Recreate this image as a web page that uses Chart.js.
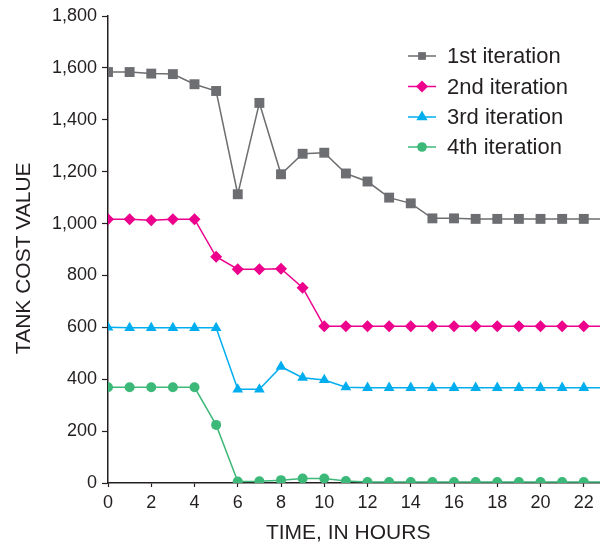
<!DOCTYPE html>
<html>
<head>
<meta charset="utf-8">
<script src="https://cdn.jsdelivr.net/npm/chart.js@4.4.1/dist/chart.umd.min.js"></script>
<style>
  html, body { margin: 0; padding: 0; background: #fff; }
  #wrap { width: 600px; height: 546px; position: relative; }
</style>
</head>
<body>
<div id="wrap"><canvas id="tankChart"></canvas></div>
<script>
// hours of the day; the last one only carries the lines out to the edge
const hours = [0, 1, 2, 3, 4, 5, 6, 7, 8, 9, 10, 11, 12, 13, 14, 15, 16, 17, 18, 19, 20, 21, 22, 23];
const iter1 = [1584, 1584, 1578, 1576, 1537, 1511, 1113, 1465, 1190, 1269, 1273, 1193, 1162, 1100, 1078, 1020, 1020, 1018, 1018, 1018, 1018, 1018, 1018, 1018];
const iter2 = [1017, 1017, 1013, 1017, 1017, 872, 824, 824, 826, 753, 604, 604, 604, 604, 604, 604, 604, 604, 604, 604, 604, 604, 604, 604];
const iter3 = [600, 598, 598, 598, 598, 598, 361, 361, 448, 406, 397, 369, 367, 367, 367, 367, 367, 367, 367, 367, 367, 367, 367, 367];
const iter4 = [369, 369, 369, 369, 369, 224, 6, 7, 11, 17, 17, 8, 4, 4, 4, 4, 4, 4, 4, 4, 4, 4, 4, 4];
const seriesNames = ['1st iteration', '2nd iteration', '3rd iteration', '4th iteration'];
const xTicks = [0, 2, 4, 6, 8, 10, 12, 14, 16, 18, 20, 22];

const FONT = '"Liberation Sans", Arial, Helvetica, sans-serif';
const INK = '#231f20';

const styles = [
    { color: '#6d6e71', shape: 'rect', r: 7, legendR: 5.5 },
    { color: '#ec008c', shape: 'rectRot', r: 6, legendR: 6 },
    { color: '#00aeef', shape: 'triangle', r: 6.2, legendR: 6.5 },
    { color: '#3cb878', shape: 'circle', r: 5, legendR: 4.8 }
];

function makeSet(i, values) {
    const st = styles[i];
    return {
        label: seriesNames[i],
        data: hours.map((h, k) => ({ x: h, y: values[k] })),
        borderColor: st.color,
        backgroundColor: st.color,
        borderWidth: 1.5,
        pointStyle: st.shape,
        pointRadius: c => (c.dataIndex === hours.length - 1 ? 0 : st.r),
        pointBorderWidth: 0,
        tension: 0
    };
}

function drawMarker(ctx, shape, x, y, r) {
    ctx.beginPath();
    if (shape === 'rect') {
        const s = r * Math.SQRT1_2;
        ctx.rect(x - s, y - s, 2 * s, 2 * s);
    } else if (shape === 'rectRot') {
        ctx.moveTo(x, y - r); ctx.lineTo(x + r, y); ctx.lineTo(x, y + r); ctx.lineTo(x - r, y);
        ctx.closePath();
    } else if (shape === 'triangle') {
        for (let k = 0; k < 3; k++) {
            const a = k * 2 * Math.PI / 3;
            const px = x + Math.sin(a) * r, py = y - Math.cos(a) * r;
            k ? ctx.lineTo(px, py) : ctx.moveTo(px, py);
        }
        ctx.closePath();
    } else {
        ctx.arc(x, y, r, 0, Math.PI * 2);
    }
    ctx.fill();
}

// legend sits inside the plot, top right
const cornerLegend = {
    id: 'cornerLegend',
    afterDraw(chart) {
        const ctx = chart.ctx;
        const rows = [56, 86.5, 117, 147];
        ctx.save();
        ctx.font = '22px ' + FONT;
        ctx.textBaseline = 'middle';
        seriesNames.forEach((name, i) => {
            const st = styles[i], y = rows[i];
            ctx.strokeStyle = st.color;
            ctx.fillStyle = st.color;
            ctx.lineWidth = 1.5;
            ctx.beginPath();
            ctx.moveTo(408, y); ctx.lineTo(436, y);
            ctx.stroke();
            drawMarker(ctx, st.shape, 422, y, st.legendR);
            ctx.fillStyle = INK;
            ctx.fillText(name, 447, y + 1);
        });
        ctx.restore();
    }
};

new Chart(document.getElementById('tankChart'), {
    type: 'line',
    data: { datasets: [makeSet(0, iter1), makeSet(1, iter2), makeSet(2, iter3), makeSet(3, iter4)] },
    options: {
        responsive: true,
        maintainAspectRatio: false,
        animation: false,
        layout: { autoPadding: false, padding: { top: 16, right: 0, left: 0, bottom: 0 } },
        plugins: { legend: { display: false }, tooltip: { enabled: false } },
        scales: {
            x: {
                type: 'linear',
                min: 0,
                max: 22.75,
                afterBuildTicks: s => { s.ticks = xTicks.map(v => ({ value: v })); },
                afterFit: s => { s.height = 63; },
                border: { color: INK, width: 1.5 },
                grid: { drawOnChartArea: false, tickLength: 4, color: INK, tickWidth: 1.2 },
                ticks: { color: INK, font: { family: FONT, size: 18 }, padding: 5, maxRotation: 0, autoSkip: false },
                title: { display: true, text: 'TIME, IN HOURS  ', color: INK, font: { family: FONT, size: 21 }, padding: { top: 0, bottom: 0 } }
            },
            y: {
                min: 0,
                max: 1800,
                afterFit: s => { s.width = 108; },
                border: { color: INK, width: 1.5 },
                grid: { drawOnChartArea: false, tickLength: 6, color: INK, tickWidth: 1.2 },
                ticks: {
                    stepSize: 200,
                    color: INK,
                    font: { family: FONT, size: 18 },
                    padding: 5,
                    callback: v => v.toLocaleString('en-US')
                },
                title: { display: true, text: 'TANK COST VALUE   ', color: INK, font: { family: FONT, size: 21 }, padding: { top: 12, bottom: 0 } }
            }
        }
    },
    plugins: [cornerLegend]
});
</script>
</body>
</html>
